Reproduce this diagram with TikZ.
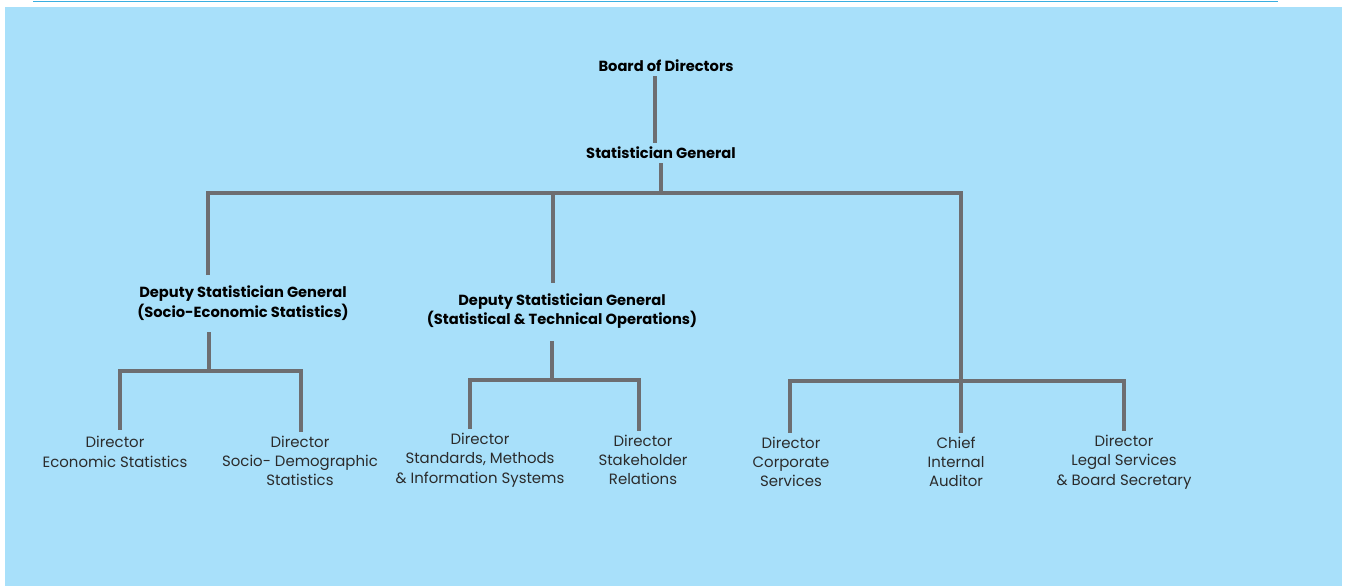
\documentclass[tikz,border=0pt]{standalone}
\usepackage{fontspec}
\setmainfont{Poppins}
\definecolor{panelblue}{HTML}{A8E0FA}
\definecolor{rulecol}{HTML}{3AAEE0}
\definecolor{linkgray}{HTML}{6D6E71}
\definecolor{textgray}{HTML}{2B2B2B}
\tikzset{
  head/.style={font=\bfseries\fontsize{11}{14.5}\selectfont, align=center, inner sep=3pt},
  post/.style={font=\fontsize{11.2}{14.5}\selectfont, text=textgray, align=center, inner sep=3pt},
  link/.style={draw=linkgray, line width=2.6pt},
}
\begin{document}
\begin{tikzpicture}[x=0.75pt,y=-0.75pt]
\useasboundingbox (0,0) rectangle (1348,586);
% background panel and top rule
\fill[panelblue] (5,7) rectangle (1342,586);
\draw[rulecol, line width=1.3pt] (33,1.5) -- (1278,1.5);

% heads
\node[head] (bod) at (666,66) {Board of Directors};
\node[head] (sg) at (661,153) {Statistician General};
\node[head] (dsgA) at (243,303) {Deputy Statistician General\\(Socio-Economic Statistics)};
\node[head] (dsgB) at (562,311) {Deputy Statistician General\\(Statistical \& Technical Operations)};

% directors
\node[post] (econ) at (115,452) {Director\\Economic Statistics};
\node[post] (socio) at (300,461) {Director\\Socio- Demographic\\Statistics};
\node[post] (stds) at (480,460) {Director\\Standards, Methods\\\& Information Systems};
\node[post] (stake) at (643,460) {Director\\Stakeholder\\Relations};
\node[post] (corp) at (791,462) {Director\\Corporate\\Services};
\node[post] (chief) at (956,462) {Chief\\Internal\\Auditor};
\node[post] (legal) at (1124,462) {Director\\Legal Services\\\& Board Secretary};

% junctions
\coordinate (busA) at (208,193);
\coordinate (busB) at (553,193);
\coordinate (busC) at (961,193);
\coordinate (forkA) at (209,371);
\coordinate (legA1) at (120,371);
\coordinate (legA2) at (301,371);
\coordinate (forkB) at (552,380);
\coordinate (legB1) at (470,380);
\coordinate (legB2) at (639,380);
\coordinate (legC1) at (790,381);
\coordinate (legC2) at (1124,381);

% connectors
\draw[link] ([xshift=-8.25pt]bod.south) -- ([xshift=-4.5pt]sg.north);
\draw[link] (sg.south) -- (sg.south |- busA);
\draw[link, shorten <=5pt] (busA |- dsgA.north) |- (busC) -- (busC |- chief.north);
\draw[link, shorten >=5pt] (busB) -- (busB |- dsgB.north);

\draw[link, shorten <=6pt] (forkA |- dsgA.south) -- (forkA);
\draw[link, shorten <=2pt] (econ.north -| legA1) |- (legA2) -- (legA2 |- socio.north);

\draw[link, shorten <=6pt] (forkB |- dsgB.south) -- (forkB);
\draw[link] (stds.north -| legB1) |- (legB2) -- (legB2 |- stake.north);

\draw[link] (corp.north -| legC1) |- (legC2) -- (legC2 |- legal.north);
\end{tikzpicture}
\end{document}
